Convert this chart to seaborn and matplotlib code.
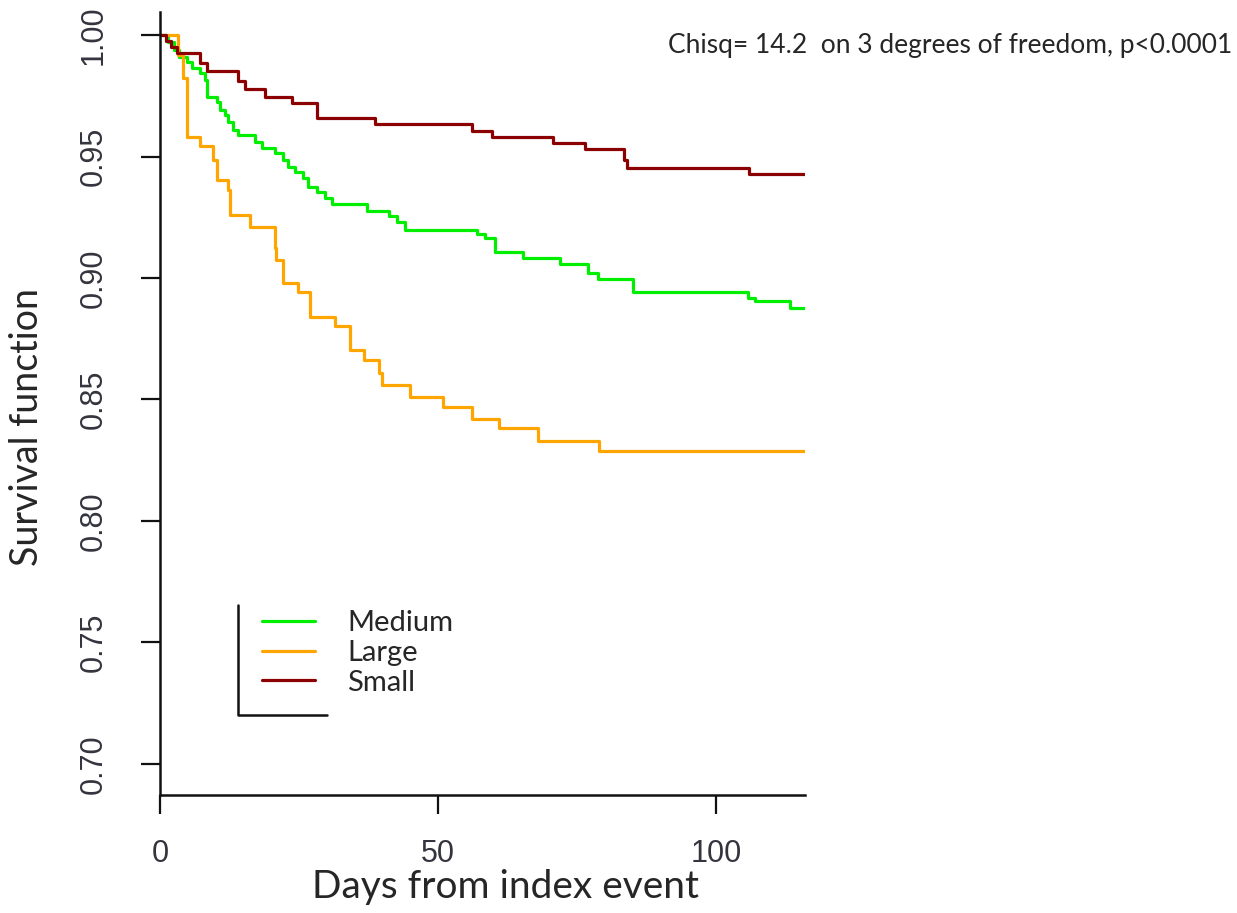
import numpy as np
import pandas as pd
import matplotlib
matplotlib.use("Agg")
import matplotlib.pyplot as plt
from matplotlib.lines import Line2D
import seaborn as sns

# Kaplan-Meier step estimates by group (day of event, survival after the step)
days_medium = [0, 1.5, 2.5, 3.5, 4.8, 5.8, 7.2, 8.1, 8.4, 10.2, 10.8, 11.7, 12.3, 13.2,
               14.1, 17.1, 18.3, 20.7, 22.2, 23.1, 24.3, 25.8, 26.7, 28.2, 29.7, 30.9,
               37.2, 41.1, 42.6, 44.1, 57.0, 58.4, 60.3, 65.3, 71.9, 76.9, 78.8, 85.1,
               105.8, 107.0, 113.3, 116]
surv_medium = [1.0, 0.997, 0.994, 0.991, 0.989, 0.9864, 0.9844, 0.9815, 0.9746, 0.9726,
               0.969, 0.967, 0.9643, 0.9609, 0.9588, 0.956, 0.9534, 0.9513, 0.9486,
               0.9458, 0.9437, 0.941, 0.9376, 0.9355, 0.9328, 0.9305, 0.9277, 0.9255,
               0.9232, 0.9198, 0.918, 0.9163, 0.9108, 0.9084, 0.9058, 0.9022, 0.8995,
               0.8944, 0.8916, 0.8907, 0.8878, 0.8878]

days_large = [0, 3.3, 4.2, 4.9, 7.2, 9.6, 10.2, 12.3, 12.6, 16.2, 20.7, 20.9, 22.2, 24.9,
              27.0, 31.5, 34.2, 36.6, 39.3, 39.9, 45.0, 50.9, 56.1, 61.0, 68.0, 79.0, 116]
surv_large = [1.0, 0.9918, 0.9822, 0.9581, 0.9544, 0.9486, 0.9403, 0.9362, 0.9259, 0.9211,
              0.9122, 0.9074, 0.8981, 0.8944, 0.8841, 0.8802, 0.8704, 0.8663, 0.8608,
              0.856, 0.8509, 0.8468, 0.8419, 0.8381, 0.8329, 0.8289, 0.8289]

days_small = [0, 1.0, 2.0, 3.0, 7.2, 8.4, 14.0, 15.2, 18.9, 23.7, 28.2, 38.7, 56.1, 59.7,
              70.6, 76.4, 83.5, 83.9, 105.9, 116]
surv_small = [1.0, 0.9975, 0.995, 0.9926, 0.9886, 0.9852, 0.981, 0.9777, 0.9746, 0.9719,
              0.966, 0.9632, 0.9606, 0.9582, 0.9557, 0.953, 0.9486, 0.9451, 0.9427, 0.9427]

groups = ["Medium", "Large", "Small"]
colors = {"Medium": "#00EE00", "Large": "#FFA500", "Small": "#8B0000"}

x_ticks = [0, 50, 100]
y_ticks = [0.70, 0.75, 0.80, 0.85, 0.90, 0.95, 1.00]
stat_text = "Chisq= 14.2  on 3 degrees of freedom, p<0.0001"

frames = []
for name, d, s in [("Medium", days_medium, surv_medium),
                   ("Large", days_large, surv_large),
                   ("Small", days_small, surv_small)]:
    frames.append(pd.DataFrame({"day": d, "surv": s, "group": name}))
df = pd.concat(frames, ignore_index=True)

sns.set_theme(style="ticks")
plt.rcParams["font.family"] = ["Lato", "DejaVu Sans"]

W, H = 1237, 913
fig = plt.figure(figsize=(W / 100, H / 100), dpi=100)
ax = fig.add_axes([160 / W, 1 - 795 / H, (805 - 160) / W, (795 - 12) / H])

sns.lineplot(data=df, x="day", y="surv", hue="group", hue_order=groups,
             palette=colors, estimator=None, errorbar=None, sort=False,
             drawstyle="steps-post", linewidth=2.3, legend=False, ax=ax)

ax.set_xlim(0, 116)
ax.set_ylim(0.6872, 1.0095)
ax.set_xticks(x_ticks)
ax.set_yticks(y_ticks)
ax.set_xticklabels([str(t) for t in x_ticks])
ax.set_yticklabels([f"{t:.2f}" for t in y_ticks])

for side in ["top", "right"]:
    ax.spines[side].set_visible(False)
for side in ["left", "bottom"]:
    ax.spines[side].set_linewidth(1.8)
    ax.spines[side].set_color("#111111")

tick_font = ["Liberation Sans", "DejaVu Sans"]
ax.tick_params(axis="both", direction="out", length=14, width=1.6, color="#111111",
               labelsize=22, labelcolor="#34343f")
ax.tick_params(axis="x", pad=18)
ax.tick_params(axis="y", pad=23)
for lab in ax.get_xticklabels():
    lab.set_fontfamily(tick_font)
for lab in ax.get_yticklabels():
    lab.set_fontfamily(tick_font)
    lab.set_rotation(90)
    lab.set_va("center")

ax.set_xlabel("Days from index event", fontsize=28)
ax.set_ylabel("Survival function", fontsize=27)
ax.xaxis.set_label_coords((506 - 160) / 645, (795 - 887) / 783)
ax.xaxis.label.set_va("center")
ax.yaxis.set_label_coords((27 - 160) / 645, (795 - 427) / 783)
ax.yaxis.label.set_va("center")

# legend with an L-shaped bracket on its left and bottom
handles = [Line2D([], [], color=colors[g], lw=2.3) for g in groups]
fig.legend(handles, groups, loc="upper left",
           bbox_to_anchor=(262 / W, 1 - 610 / H), frameon=False, fontsize=21,
           handlelength=1.82, handletextpad=1.1, labelspacing=0.13,
           borderpad=0, borderaxespad=0)
fig.add_artist(Line2D([238 / W, 238 / W, 327 / W], [1 - 605 / H, 1 - 715 / H, 1 - 715 / H],
                      transform=fig.transFigure, color="#111111", lw=1.8))

fig.text(1232 / W, 1 - 45 / H, stat_text, ha="right", va="center", fontsize=19)

fig.savefig("out.png", dpi=100, facecolor="white")
